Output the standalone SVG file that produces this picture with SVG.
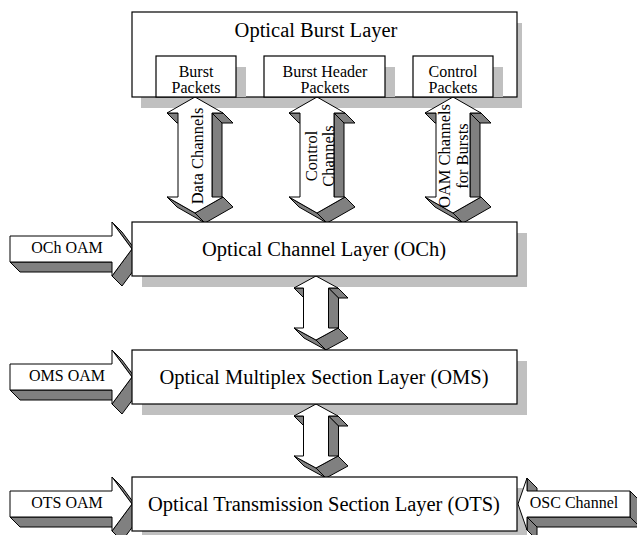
<svg xmlns="http://www.w3.org/2000/svg" xmlns:xlink="http://www.w3.org/1999/xlink" width="637" height="535" viewBox="0 0 637 535">
<style>
.box{fill:#fff;stroke:#000;stroke-width:1.2}
.sh{fill:#c0c0c0;stroke:none}
.fr{fill:#fff;stroke:#000;stroke-width:1}
.sd{fill:#808080;stroke:#000;stroke-width:1;stroke-linejoin:round}
text{font-family:"Liberation Serif","Times New Roman",serif;fill:#000}
.big{font-size:20.5px;text-anchor:middle}
.mid{font-size:16px;text-anchor:middle}
.lab{font-size:16px;text-anchor:middle}
.rot{font-size:16.5px;text-anchor:middle}
</style>
<defs>
<g id="bigV">
<polygon class="sd" points="-28,16 -17,16 -7,26 -18,26"/>
<polygon class="sd" points="17,16 28,16 38,26 27,26"/>
<polygon class="sd" points="17,16 27,26 27,110 17,100"/>
<polygon class="sd" points="-28,100 0,116 10,126 -18,110"/>
<polygon class="sd" points="0,116 28,100 38,110 10,126"/>
<polygon class="fr" points="0,0 28,16 17,16 17,100 28,100 0,116 -28,100 -17,100 -17,16 -28,16"/>
</g>
<g id="smallV">
<polygon class="sd" points="-22,12 -12.5,12 -2.5,22 -12,22"/>
<polygon class="sd" points="12.5,12 22,12 32,22 22.5,22"/>
<polygon class="sd" points="12.5,12 22.5,22 22.5,62 12.5,52"/>
<polygon class="sd" points="-22,52 0,64 10,74 -12,62"/>
<polygon class="sd" points="0,64 22,52 32,62 10,74"/>
<polygon class="fr" points="0,0 22,12 12.5,12 12.5,52 22,52 0,64 -22,52 -12.5,52 -12.5,12 -22,12"/>
</g>
<g id="rightA">
<polygon class="sd" points="10,13 112,13 122,23 20,23"/>
<polygon class="sd" points="112,-27 132,0 142,10 122,-17"/>
<polygon class="sd" points="132,0 112,27 122,37 142,10"/>
<polygon class="fr" points="10,-13 112,-13 112,-27 132,0 112,27 112,13 10,13"/>
</g>
</defs>

<g id="shadows">
<rect class="sh" x="141" y="23" width="381" height="85"/>
<rect class="sh" x="142" y="233" width="385" height="54"/>
<rect class="sh" x="142" y="361" width="385" height="54"/>
<rect class="sh" x="142" y="488" width="385" height="54"/>
</g>

<g id="connectors">
<use xlink:href="#bigV" transform="translate(195,97)"/>
<use xlink:href="#bigV" transform="translate(317,97)"/>
<use xlink:href="#bigV" transform="translate(453,97)"/>
<use xlink:href="#smallV" transform="translate(316,276)"/>
<use xlink:href="#smallV" transform="translate(316,404)"/>
<use xlink:href="#rightA" transform="translate(0,249)"/>
<use xlink:href="#rightA" transform="translate(0,377)"/>
<use xlink:href="#rightA" transform="translate(0,504)"/>
<g id="osc">
<polygon class="sd" points="527,478 527,491 537,501 537,488"/>
<polygon class="sd" points="630,491 640,501 640,527 630,517"/>
<polygon class="sd" points="527,517 630,517 640,527 537,527"/>
<polygon class="sd" points="527,517 527,530 537,540 537,527"/>
<polygon class="fr" points="518,504 527,478 527,491 630,491 630,517 527,517 527,530"/>
</g>
<text class="rot" transform="translate(203,156) rotate(-90)">Data Channels</text>
<text class="rot" transform="translate(317,156) rotate(-90)">Control</text>
<text class="rot" transform="translate(334,156) rotate(-90)">Channels</text>
<text class="rot" transform="translate(450,156) rotate(-90)">OAM Channels</text>
<text class="rot" transform="translate(468,156) rotate(-90)">for Bursts</text>
<text class="lab" x="67" y="253">OCh OAM</text>
<text class="lab" x="67" y="381">OMS OAM</text>
<text class="lab" x="67" y="508">OTS OAM</text>
<text class="lab" x="574" y="508">OSC Channel</text>
</g>

<g id="burst-layer">
<rect class="box" x="132" y="12" width="385" height="85"/>
<text class="big" x="316" y="37">Optical Burst Layer</text>
</g>
<g id="burst-packets">
<rect class="sh" x="166" y="67" width="80" height="30"/>
<rect class="box" x="156" y="56" width="80" height="41"/>
<text class="mid" x="196" y="77">Burst</text>
<text class="mid" x="196" y="93">Packets</text>
</g>
<g id="bhp">
<rect class="sh" x="274" y="67" width="121" height="30"/>
<rect class="box" x="264" y="56" width="121" height="41"/>
<text class="mid" x="325" y="77">Burst Header</text>
<text class="mid" x="325" y="93">Packets</text>
</g>
<g id="control-packets">
<rect class="sh" x="423" y="67" width="80" height="30"/>
<rect class="box" x="413" y="56" width="80" height="41"/>
<text class="mid" x="453" y="77">Control</text>
<text class="mid" x="453" y="93">Packets</text>
</g>
<g id="och">
<rect class="box" x="132" y="222" width="385" height="54"/>
<text class="big" x="324" y="256">Optical Channel Layer (OCh)</text>
</g>
<g id="oms">
<rect class="box" x="132" y="350" width="385" height="54"/>
<text class="big" x="324" y="384">Optical Multiplex Section Layer (OMS)</text>
</g>
<g id="ots">
<rect class="box" x="132" y="477" width="385" height="54"/>
<text class="big" x="324" y="511">Optical Transmission Section Layer (OTS)</text>
</g>
</svg>
